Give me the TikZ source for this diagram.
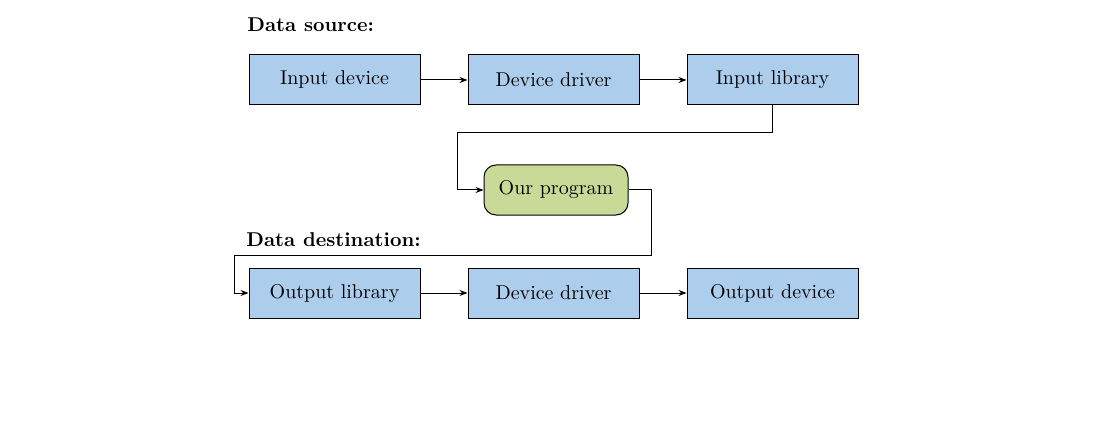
\documentclass[tikz,border=0pt]{standalone}
\usepackage{tikz}
\usetikzlibrary{arrows.meta}
\definecolor{boxblue}{RGB}{172, 205, 236}
\definecolor{progreen}{RGB}{201, 218, 152}

\begin{document}
\begin{tikzpicture}[x=0.5pt, y=-0.5pt,
    stage/.style={draw, line width=0.5pt, fill=boxblue, minimum width=85.5pt,
      minimum height=25pt, inner sep=0pt},
    prog/.style={draw, line width=0.5pt, fill=progreen, rounded corners=6pt,
      minimum width=72pt, minimum height=25pt, inner sep=0pt},
    heading/.style={anchor=west, font=\bfseries, inner sep=0pt},
    flow/.style={line width=0.5pt, -{Stealth[length=4pt, width=3pt]}}]
  \useasboundingbox (0, 0) rectangle (1117, 427);

  \node[heading] (srclabel) at (247, 25) {Data source:};
  \node[heading] (dstlabel) at (246, 240) {Data destination:};

  % input side
  \node[stage] (indev) at (334.5, 80) {Input device};
  \node[stage] (indrv) at (553.5, 80) {Device driver};
  \node[stage] (inlib) at (772.5, 80) {Input library};

  \node[prog] (prog) at (556, 190) {Our program};

  % output side
  \node[stage] (outlib) at (334.5, 293) {Output library};
  \node[stage] (outdrv) at (553.5, 293) {Device driver};
  \node[stage] (outdev) at (772.5, 293) {Output device};

  \coordinate (upturn) at (457, 133);
  \coordinate (downright) at (651, 255);
  \coordinate (downleft) at (234, 255);

  \draw[flow] (indev) -- (indrv);
  \draw[flow] (indrv) -- (inlib);
  \draw[flow] (inlib.south) |- (upturn) |- (prog.west);
  \draw[flow] (prog.east) -| (downright) -- (downleft) |- (outlib.west);
  \draw[flow] (outlib) -- (outdrv);
  \draw[flow] (outdrv) -- (outdev);

\end{tikzpicture}
\end{document}
